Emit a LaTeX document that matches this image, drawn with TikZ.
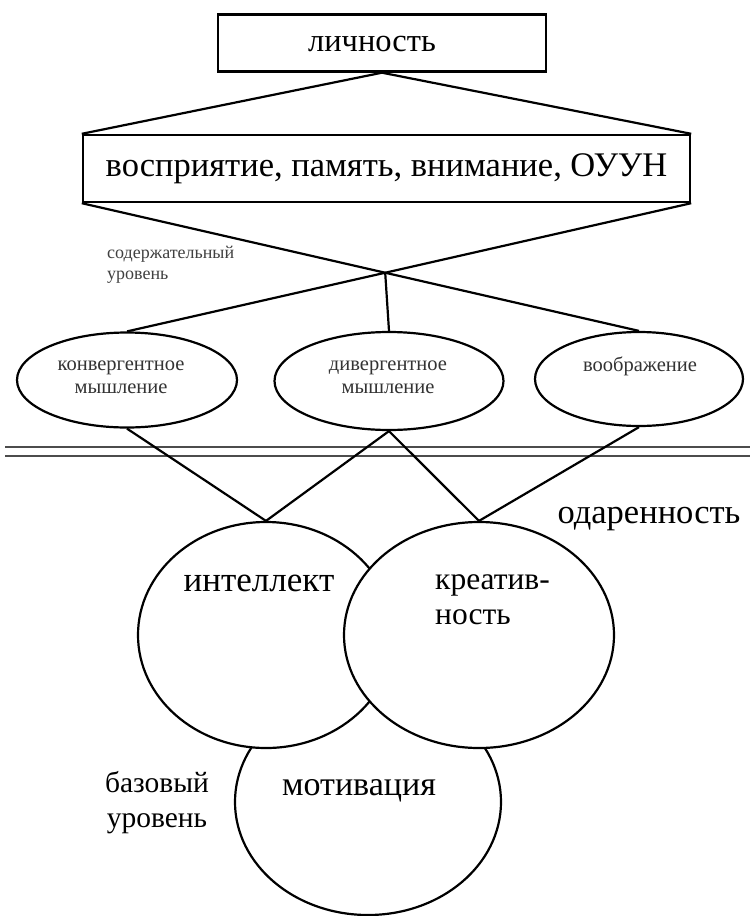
\documentclass[tikz,border=0pt]{standalone}
\usepackage{fontspec}
\setmainfont{Liberation Serif}
\usetikzlibrary{shapes.geometric}
\begin{document}
\begin{tikzpicture}[x=1pt,y=-1pt,
  every node/.style={inner sep=0pt},
  ln/.style={line width=2.2pt},
  boxnode/.style={draw,line width=2.4pt,rectangle},
  ovalnode/.style={draw,ellipse,line width=2.2pt,fill=white},
  smallfont/.style={font=\fontsize{20.5}{23}\selectfont,text=black!80},
  tinyfont/.style={font=\fontsize{18}{21}\selectfont,text=black!75},
  sep/.style={line width=1.4pt,draw=black!70}
]
\useasboundingbox (0,0) rectangle (750,916);
% boxes
\node[boxnode,minimum width=328pt,minimum height=57pt] (top) at (382,43) {};
\node[font=\fontsize{32.5}{36}\selectfont] (toptxt) at (372,44) {личность};
\node[boxnode,minimum width=607pt,minimum height=67pt] (box2) at (386.5,168.5) {};
\node[font=\fontsize{34.5}{38}\selectfont] (box2txt) at (386.5,169) {восприятие, память, внимание, ОУУН};
\draw[ln] (top.south) -- (box2.north west);
\draw[ln] (top.south) -- (box2.north east);
% label
\node[tinyfont,anchor=west,align=left] (lvl1) at (107,265) {содержательный\\уровень};
% ellipses
\node[ovalnode,minimum width=220pt,minimum height=95pt] (e1) at (127,380) {};
\node[ovalnode,minimum width=229pt,minimum height=98pt] (e2) at (389,381) {};
\node[ovalnode,minimum width=208pt,minimum height=94pt] (e3) at (639,379) {};
\node[smallfont,align=center] (e1txt) at (121,377) {конвергентное\\мышление};
\node[smallfont,align=center] (e2txt) at (388,377) {дивергентное\\мышление};
\node[smallfont] (e3txt) at (640,366) {воображение};
% crossing
\coordinate (cross) at (intersection of box2.south west--e3.north and box2.south east--e1.north);
\draw[ln] (box2.south west) -- (e3.north);
\draw[ln] (box2.south east) -- (e1.north);
\draw[ln] (cross) -- (e2.north);
% double separator
\coordinate (s1a) at (5,447);
\coordinate (s1b) at (750,447);
\coordinate (s2a) at (5,456);
\coordinate (s2b) at (750,456);
\draw[sep] (s1a) -- (s1b);
\draw[sep] (s2a) -- (s2b);
% circles
\node[ovalnode,minimum width=266pt,minimum height=226pt] (mot) at (368,802) {};
\node[ovalnode,minimum width=256pt,minimum height=226pt] (int) at (266,635) {};
\node[ovalnode,minimum width=270pt,minimum height=226pt] (cre) at (479,635) {};
\draw[ln] (e1.south) -- (int.north);
\draw[ln] (e2.south) -- (int.north);
\draw[ln] (e2.south) -- (cre.north);
\draw[ln] (e3.south) -- (cre.north);
% texts
\node[font=\fontsize{35}{38}\selectfont] (inttxt) at (259,583) {интеллект};
\node[font=\fontsize{31.5}{35}\selectfont,anchor=west,align=left] (cretxt) at (435,600) {креатив-\\ность};
\node[font=\fontsize{34}{38}\selectfont] (mottxt) at (359,791) {мотивация};
\node[font=\fontsize{34.5}{38}\selectfont] (gift) at (649,519) {одаренность};
\node[font=\fontsize{29.5}{35}\selectfont,align=center] (base) at (157,803) {базовый\\уровень};
\end{tikzpicture}
\end{document}
